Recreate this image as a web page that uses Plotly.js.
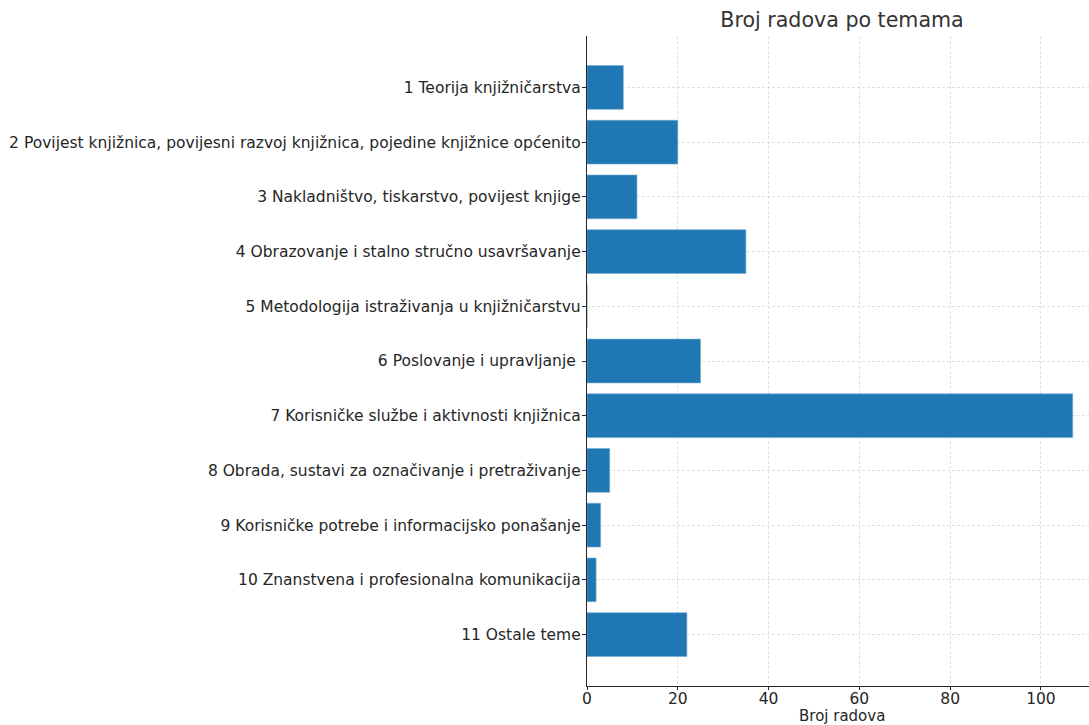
<!DOCTYPE html>
<html>
<head>
<meta charset="utf-8">
<script src="https://cdn.plot.ly/plotly-3.0.1.min.js"></script>
<style>
html, body { margin: 0; padding: 0; overflow: hidden; background: #fff; }
#chart { width: 1100px; height: 725px; }
</style>
</head>
<body>
<div id="chart"></div>
<script>
const categories = [
  "1 Teorija knjižničarstva",
  "2 Povijest knjižnica, povijesni razvoj knjižnica, pojedine knjižnice općenito",
  "3 Nakladništvo, tiskarstvo, povijest knjige",
  "4 Obrazovanje i stalno stručno usavršavanje",
  "5 Metodologija istraživanja u knjižničarstvu",
  "6 Poslovanje i upravljanje ",
  "7 Korisničke službe i aktivnosti knjižnica",
  "8 Obrada, sustavi za označivanje i pretraživanje",
  "9 Korisničke potrebe i informacijsko ponašanje",
  "10 Znanstvena i profesionalna komunikacija",
  "11 Ostale teme"
];
const counts = [8, 20, 11, 35, 0, 25, 107, 5, 3, 2, 22];
const xTickValues = [0, 20, 40, 60, 80, 100];
const chartTitle = "Broj radova po temama";
const xTitle = "Broj radova";

const font = "DejaVu Sans, sans-serif";
const fs = 15.5;
const trace = {
  type: "bar",
  orientation: "h",
  x: counts,
  y: categories,
  width: 0.8,
  marker: { color: "#1f77b4", line: { color: "rgba(120,170,210,0.8)", width: 0.8 } },
  hoverinfo: "x+y"
};

const layout = {
  width: 1100,
  height: 725,
  margin: { l: 587, r: 2.5, t: 36, b: 39, pad: 0 },
  paper_bgcolor: "#fff",
  plot_bgcolor: "#fff",
  font: { family: font, size: fs, color: "#262626" },
  title: {
    text: chartTitle,
    font: { family: font, size: 20.6, color: "#333" },
    xref: "paper", x: 0.5, xanchor: "center",
    yref: "container", y: 1 - 20/725, yanchor: "middle"
  },
  showlegend: false,
  bargap: 0.2,
  annotations: [{
    text: xTitle,
    xref: "paper", x: 0.5, xanchor: "center",
    yref: "paper", y: 0, yanchor: "middle", yshift: -30,
    borderpad: 0,
    showarrow: false,
    font: { family: font, size: 15, color: "#262626" }
  }],
  xaxis: {
    range: [0, 112.35],
    tickvals: xTickValues,
    ticktext: xTickValues.map(String),
    showline: true, linecolor: "#262626", linewidth: 1.2,
    ticks: "outside", ticklen: 3, tickcolor: "#262626", tickwidth: 1,
    ticklabelstandoff: -5,
    showgrid: true, gridcolor: "#d8d8d8", griddash: "3px,2px", gridwidth: 0.8,
    zeroline: false,
    automargin: false,
    tickfont: { family: font, size: fs, color: "#262626" }
  },
  yaxis: {
    type: "category",
    categoryorder: "array",
    categoryarray: categories,
    range: [10.94, -0.94],
    showline: true, linecolor: "#262626", linewidth: 1.2,
    ticks: "outside", ticklen: 4, tickcolor: "#262626", tickwidth: 1,
    ticklabelstandoff: -2,
    showgrid: true, gridcolor: "#d8d8d8", griddash: "3px,2px", gridwidth: 0.8,
    zeroline: false,
    automargin: false,
    tickfont: { family: font, size: fs, color: "#262626" }
  }
};

Plotly.newPlot("chart", [trace], layout, { displayModeBar: false, staticPlot: true });
</script>
</body>
</html>
